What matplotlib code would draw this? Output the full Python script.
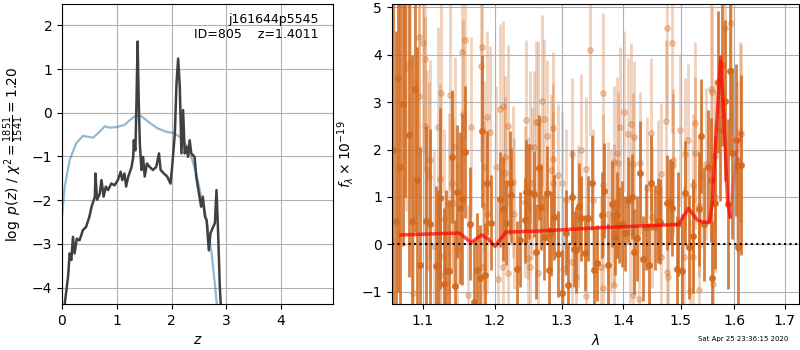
import matplotlib
matplotlib.use('Agg')
import matplotlib.pyplot as plt
from matplotlib.ticker import NullLocator

# left panel: log p(z) and chi2 curves
pz_z = [0.05, 0.11, 0.14, 0.17, 0.20, 0.23, 0.27, 0.32, 0.38, 0.44, 0.50, 0.54, 0.60, 0.61,
        0.64, 0.69, 0.72, 0.76, 0.80, 0.84, 0.90, 0.96, 1.02, 1.07, 1.10, 1.14, 1.17, 1.21,
        1.27, 1.30, 1.31, 1.34, 1.36, 1.38, 1.40, 1.42, 1.45, 1.48, 1.51, 1.55, 1.60, 1.66,
        1.72, 1.77, 1.80, 1.86, 1.92, 1.98, 2.01, 2.06, 2.09, 2.12, 2.15, 2.18, 2.21, 2.24,
        2.27, 2.30, 2.33, 2.36, 2.42, 2.45, 2.50, 2.54, 2.57, 2.61, 2.64, 2.68, 2.71, 2.76,
        2.79, 2.82, 2.85, 2.88, 2.91]
pz_log = [-4.37, -3.76, -3.22, -3.37, -2.84, -3.22, -2.88, -2.92, -2.69, -2.61, -2.38, -2.15,
          -1.92, -1.39, -1.99, -1.85, -1.54, -1.92, -1.69, -1.77, -1.62, -1.66, -1.54, -1.35,
          -1.54, -1.39, -1.69, -1.46, -1.24, -1.01, -0.63, -0.86, 0.29, 1.63, 0.29, -0.70,
          -1.31, -1.01, -1.46, -1.16, -1.24, -1.31, -1.24, -0.93, -1.31, -1.39, -1.46, -1.62,
          -1.24, -0.47, 0.67, 1.24, 0.59, -0.93, 0.06, -0.93, -0.78, -1.01, -0.63, -0.93,
          -1.01, -1.46, -1.85, -2.15, -1.92, -2.38, -2.46, -3.15, -2.76, -2.61, -2.53, -1.77,
          -2.76, -3.98, -4.67]

chi_z = [0.0, 0.05, 0.14, 0.26, 0.38, 0.57, 0.69, 0.78, 0.87, 0.99, 1.14, 1.24, 1.33, 1.41,
         1.48, 1.60, 1.75, 1.91, 2.03, 2.15, 2.27, 2.36, 2.45, 2.54, 2.64, 2.73, 2.79, 2.83, 2.87]
chi_log = [-2.38, -1.69, -1.08, -0.70, -0.53, -0.57, -0.43, -0.31, -0.34, -0.33, -0.28, -0.17,
           -0.08, -0.05, -0.11, -0.23, -0.36, -0.44, -0.46, -0.55, -0.74, -1.01, -1.39, -1.92,
           -2.46, -3.22, -3.91, -4.44, -4.9]

# right panel: spectrum (bright beam)
dark_wave = [1.062, 1.065, 1.068, 1.071, 1.074, 1.077, 1.082, 1.086, 1.090, 1.093, 1.097, 1.105,
             1.110, 1.118, 1.120, 1.124, 1.129, 1.132, 1.135, 1.140, 1.144, 1.147, 1.150, 1.154,
             1.158, 1.165, 1.170, 1.175, 1.178, 1.181, 1.186, 1.189, 1.195, 1.208, 1.212, 1.216,
             1.222, 1.224, 1.232, 1.236, 1.244, 1.246, 1.250, 1.257, 1.260, 1.265, 1.269, 1.273,
             1.278, 1.281, 1.284, 1.289, 1.295, 1.301, 1.307, 1.310, 1.316, 1.319, 1.323, 1.328,
             1.331, 1.337, 1.342, 1.348, 1.352, 1.356, 1.364, 1.368, 1.374, 1.381, 1.387, 1.389,
             1.393, 1.398, 1.403, 1.408, 1.415, 1.419, 1.424, 1.429, 1.434, 1.438, 1.444, 1.448,
             1.454, 1.460, 1.464, 1.475, 1.481, 1.485, 1.493, 1.495, 1.503, 1.508, 1.516, 1.523,
             1.533, 1.537, 1.543, 1.551, 1.555, 1.558, 1.563, 1.569, 1.572, 1.576, 1.582, 1.587,
             1.592, 1.596, 1.604, 1.607, 1.612]
dark_flux = [2.0, 0.5, 3.5, 1.64, 2.96, 6.0, 2.31, 0.5, 3.27, 1.36, -0.44, 0.49,
             0.43, -0.46, -0.46, 0.97, -0.84, -0.56, -0.56, 1.85, -0.88, 1.11, 0.77, 0.95,
             1.95, 0.44, -1.21, -0.53, -0.70, 2.39, -0.65, 1.30, 0.46, 0.95, 0.74, 0.46,
             1.30, 1.04, -0.51, 0.10, 0.51, 1.11, 1.11, 1.06, -0.15, 1.62, 0.79, 0.15,
             1.08, -0.53, 0.23, 0.57, -0.20, -1.02, 0.25, -0.86, 0.99, -0.09, -0.12, 0.81,
             0.55, -0.19, 0.55, 1.30, -0.53, -0.40, 0.62, 1.13, -0.44, 0.85, 0.15, 0.62,
             0.41, 0.43, 0.23, 0.94, 1.01, -0.15, 0.13, 1.50, -0.30, 0.37, -0.44, 1.30,
             0.36, 0.50, 0.48, 0.88, 0.90, 0.76, -0.51, 0.43, -0.56, 1.09, -0.06, 0.18,
             0.74, 2.28, 0.43, 1.63, 1.36, -0.70, 0.88, 3.43, 2.41, 3.78, 3.03, 0.85,
             3.66, 1.92, 2.20, -0.05, 1.67]
dark_err = [5.0, 4.0, 4.5, 3.5, 3.0, 5.0, 3.0, 3.5, 3.0, 2.8, 2.5, 2.0,
            2.0, 1.7, 1.6, 1.9, 1.6, 1.7, 1.5, 1.4, 1.4, 1.4, 1.6, 1.8,
            1.4, 1.2, 1.3, 1.2, 1.1, 1.6, 1.1, 1.1, 1.0, 1.0, 1.1, 0.9,
            1.1, 1.0, 1.0, 1.0, 0.9, 1.1, 1.0, 0.9, 1.0, 1.1, 0.9, 0.9,
            1.0, 0.9, 0.9, 0.9, 0.9, 0.9, 0.9, 0.9, 1.0, 0.8, 0.9, 0.9,
            0.9, 0.8, 0.9, 1.0, 0.9, 0.8, 0.9, 1.0, 0.9, 0.9, 0.8, 0.9,
            0.8, 0.9, 0.8, 0.9, 0.9, 0.9, 0.9, 1.1, 0.9, 0.9, 0.9, 1.0,
            0.9, 0.9, 0.9, 1.0, 0.9, 1.0, 1.1, 1.1, 1.2, 1.1, 1.1, 1.2,
            1.2, 1.2, 1.2, 1.2, 1.3, 1.2, 1.4, 1.5, 1.5, 1.7, 1.7, 1.8,
            1.7, 1.8, 1.6, 1.9, 1.9]

# right panel: spectrum (faint beam)
light_wave = [1.079, 1.083, 1.088, 1.096, 1.096, 1.101, 1.103, 1.103, 1.106, 1.108, 1.110, 1.115,
              1.120, 1.123, 1.123, 1.124, 1.125, 1.129, 1.135, 1.137, 1.139, 1.141, 1.144, 1.147,
              1.154, 1.155, 1.158, 1.162, 1.166, 1.180, 1.181, 1.183, 1.184, 1.185, 1.189, 1.189,
              1.193, 1.201, 1.204, 1.207, 1.211, 1.211, 1.214, 1.214, 1.219, 1.219, 1.226, 1.228,
              1.244, 1.246, 1.248, 1.249, 1.251, 1.251, 1.255, 1.257, 1.260, 1.263, 1.263, 1.270,
              1.273, 1.278, 1.284, 1.286, 1.286, 1.287, 1.295, 1.301, 1.302, 1.307, 1.316, 1.317,
              1.323, 1.326, 1.331, 1.339, 1.339, 1.345, 1.350, 1.363, 1.366, 1.366, 1.366, 1.374,
              1.380, 1.385, 1.385, 1.385, 1.390, 1.391, 1.395, 1.401, 1.408, 1.412, 1.413, 1.416,
              1.417, 1.418, 1.426, 1.428, 1.440, 1.448, 1.450, 1.460, 1.465, 1.465, 1.473, 1.475,
              1.476, 1.478, 1.484, 1.486, 1.487, 1.499, 1.506, 1.508, 1.514, 1.517, 1.522, 1.523,
              1.526, 1.526, 1.533, 1.533, 1.537, 1.546, 1.555, 1.557, 1.560, 1.563, 1.563, 1.582,
              1.593, 1.605, 1.610, 1.613]
light_flux = [3.71, 3.83, -1.03, 4.37, 3.12, 4.24, 3.90, 2.50, 1.57, 1.43, 1.79, -0.04,
              2.48, 1.38, -0.65, -0.25, 3.19, 0.53, 0.88, 3.15, 1.30, 0.88, 2.06, -0.09,
              4.05, 2.76, 4.30, -1.07, 2.47, 3.76, 4.16, -0.47, 1.64, 0.81, 2.69, 0.65,
              2.38, 1.64, -0.72, 2.85, 2.92, -0.47, 1.85, 1.51, 2.50, -0.61, 1.32, 0.65,
              0.90, 2.62, -0.29, 0.76, 2.06, -0.47, 1.29, 2.05, 2.59, 2.59, -0.60, 3.03,
              2.64, 2.29, 1.57, 2.45, 1.29, 1.81, 1.46, 1.29, -0.51, 0.94, 1.90, -0.37,
              -0.68, 0.60, 2.00, 1.60, -1.09, 4.09, 0.94, -0.47, 3.19, 1.25, -0.91, 0.65,
              0.51, 1.74, 0.62, -0.86, 1.93, 1.72, 2.47, 2.80, 2.33, 0.27, 2.54, -1.07,
              1.69, 2.27, -1.16, 1.71, 1.18, 2.34, 0.58, 1.13, 1.48, -0.26, 2.61, 4.56,
              -0.58, -0.68, 4.25, 1.78, 1.67, 2.41, -0.26, 1.91, 2.20, -0.98, -0.26, 1.25,
              2.57, 1.93, 0.81, -0.96, 1.43, 1.69, 3.27, 3.22, -0.83, 1.86, 0.99, 4.56,
              4.66, 1.65, 2.37, 2.33]
light_err = [3.0, 2.8, 2.5, 2.5, 2.5, 2.3, 2.3, 2.3, 2.1, 2.0, 2.1, 2.0,
             2.1, 2.0, 1.9, 2.0, 2.1, 1.9, 1.9, 2.0, 1.9, 1.8, 1.9, 1.8,
             2.1, 2.0, 2.1, 1.9, 1.9, 2.0, 2.0, 1.8, 1.8, 1.8, 1.8, 1.7,
             1.8, 1.7, 1.7, 1.8, 1.8, 1.6, 1.7, 1.6, 1.7, 1.6, 1.6, 1.6,
             1.6, 1.7, 1.6, 1.5, 1.6, 1.5, 1.6, 1.6, 1.7, 1.7, 1.5, 1.8,
             1.7, 1.6, 1.6, 1.6, 1.5, 1.6, 1.5, 1.5, 1.5, 1.5, 1.6, 1.5,
             1.5, 1.5, 1.6, 1.5, 1.5, 1.8, 1.5, 1.5, 1.7, 1.5, 1.5, 1.5,
             1.5, 1.6, 1.5, 1.5, 1.6, 1.5, 1.7, 1.7, 1.6, 1.5, 1.7, 1.5,
             1.5, 1.6, 1.5, 1.5, 1.5, 1.6, 1.5, 1.5, 1.5, 1.5, 1.7, 1.9,
             1.5, 1.5, 1.9, 1.5, 1.5, 1.6, 1.5, 1.6, 1.6, 1.5, 1.5, 1.5,
             1.7, 1.6, 1.5, 1.5, 1.5, 1.6, 1.8, 1.8, 1.5, 1.6, 1.6, 2.0,
             2.1, 1.8, 1.9, 1.9]

# best-fit model
model_wave = [1.072, 1.150, 1.166, 1.181, 1.190, 1.200, 1.216, 1.262, 1.374, 1.496, 1.514,
              1.530, 1.540, 1.553, 1.558, 1.567, 1.574, 1.580, 1.587, 1.592]
model_flux = [0.20, 0.24, 0.04, 0.20, 0.12, -0.04, 0.26, 0.28, 0.36, 0.42, 0.76,
              0.52, 0.47, 0.47, 0.86, 2.69, 3.95, 2.69, 0.93, 0.58]
model2_wave = [1.592, 1.597, 1.605, 1.612]
model2_flux = [0.58, 1.20, 1.90, 2.34]

lam_ticks = [1.1, 1.2, 1.3, 1.4, 1.5, 1.6, 1.7]

fig = plt.figure(figsize=(8, 3.5), dpi=100)

# p(z)
ax = fig.add_axes([0.0775, 0.131, 0.339, 0.859])
ax.plot(chi_z, chi_log, color='tab:blue', alpha=0.5, lw=1.6)
ax.plot(pz_z, pz_log, color='0.25', lw=1.8)
ax.set_xlim(0, 4.95)
ax.set_ylim(-4.38, 2.5)
ax.set_xlabel(r'$z$')
ax.set_ylabel(r'$\log\ p(z)$ / $\chi^2=\frac{1851}{1541}=1.20$')
ax.text(0.945, 0.97, 'j161644p5545\nID=805    z=1.4011', ha='right', va='top',
        transform=ax.transAxes, fontsize=9)
ax.grid()

# spectrum
ax2 = fig.add_axes([0.4896, 0.131, 0.5096, 0.859])
ax2.errorbar(light_wave, light_flux, yerr=light_err, fmt='o', color='chocolate',
             alpha=0.3, ms=4, elinewidth=2, zorder=1)
ax2.errorbar(dark_wave, dark_flux, yerr=dark_err, fmt='o', color='chocolate',
             alpha=0.85, ms=4, elinewidth=2, zorder=2)
ax2.plot(model_wave, model_flux, color='r', alpha=0.7, lw=2.5, zorder=3)
ax2.plot(model2_wave, model2_flux, color='r', alpha=0.25, lw=2.5, zorder=3)
ax2.axhline(0, color='k', ls=':', lw=1.5, zorder=4)
ax2.set_xscale('log')
ax2.set_xlim(1.06, 1.73)
ax2.set_ylim(-1.26, 5.08)
ax2.set_xticks(lam_ticks)
ax2.set_xticklabels(['%.1f' % t for t in lam_ticks])
ax2.xaxis.set_minor_locator(NullLocator())
ax2.set_xlabel(r'$\lambda$')
ax2.set_ylabel(r'$f_\lambda\times10^{-19}$')
ax2.grid()

fig.text(0.985, 0.031, 'Sat Apr 25 23:36:15 2020', ha='right', va='center', fontsize=5)

fig.savefig('out.png', dpi=100)
